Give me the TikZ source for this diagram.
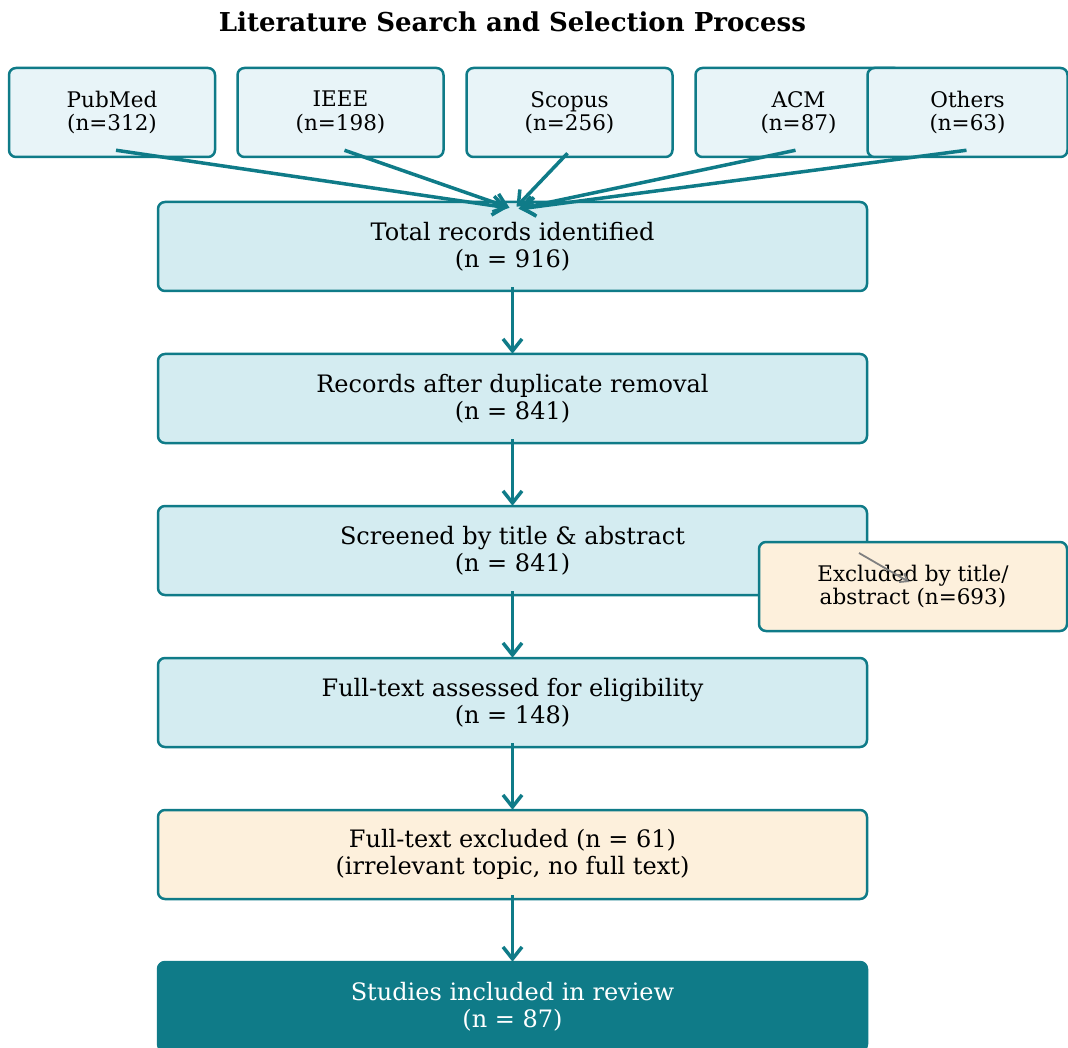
\documentclass[tikz,border=0pt]{standalone}
\usepackage{fontspec}
\setmainfont{DejaVu Serif}
\usetikzlibrary{positioning, arrows.meta}
\definecolor{flowteal}{HTML}{0F7B88}
\definecolor{srcblue}{HTML}{E8F4F8}
\definecolor{mainblue}{HTML}{D4ECF1}
\definecolor{exclcream}{HTML}{FDF0DC}
\tikzset{
  source node/.style={draw=flowteal, line width=2.5pt, rounded corners=7pt, fill=srcblue,
    minimum width=206pt, minimum height=89pt, align=center, font=\fontsize{21.5}{23.5}\selectfont},
  main node/.style={draw=flowteal, line width=2.5pt, rounded corners=7pt, fill=mainblue,
    minimum width=709pt, minimum height=89pt, align=center, font=\fontsize{24}{27}\selectfont},
  excl node/.style={main node, fill=exclcream},
  final node/.style={main node, fill=flowteal, text=white},
  flow/.style={-{Straight Barb[length=12pt,width=19pt,line width=3.5pt]}, line width=3.5pt, draw=flowteal},
}

\begin{document}
\begin{tikzpicture}[x=1pt, y=-1pt]
        \useasboundingbox (0,0) rectangle (1068,1048);
        % Title
        \node[font=\fontsize{26}{30}\selectfont\bfseries] (title) at (512.5,22) {Literature Search and Selection Process};
        % Databases
        \node[source node] (pubmed) at (112,112.5) {PubMed\\(n=312)};
        \node[source node] (ieee) at (340.5,112.5) {IEEE\\(n=198)};
        \node[source node] (scopus) at (569.5,112.5) {Scopus\\(n=256)};
        \node[source node] (acm) at (798.5,112.5) {ACM\\(n=87)};
        \node[source node, minimum width=200pt] (others) at (967.5,112.5) {Others\\(n=63)};
        % Selection stages
        \node[main node] (total) at (512.5,246.5) {Total records identified\\(n = 916)};
        \node[main node] [below = 60.5pt of total] (dedup) {Records after duplicate removal\\(n = 841)};
        \node[main node] [below = 60.5pt of dedup] (screen) {Screened by title \& abstract\\(n = 841)};
        \node[main node] [below = 60.5pt of screen] (fulltext) {Full-text assessed for eligibility\\(n = 148)};
        \node[excl node] [below = 60.5pt of fulltext] (ftexcl) {Full-text excluded (n = 61)\\(irrelevant topic, no full text)};
        \node[final node] [below = 60.5pt of ftexcl] (included) {Studies included in review\\(n = 87)};
        % Exclusion at screening
        \node[excl node, minimum width=308pt, font=\fontsize{21.5}{23.5}\selectfont] (screxcl) at (913,586.5) {Excluded by title/\\abstract (n=693)};
        \coordinate (gstart) at (859,553);
        \coordinate (gend) at (909,582);
        % Paths
        \draw[flow] ([xshift=4pt, yshift=8pt]pubmed.south) -- ([xshift=-5pt, yshift=-7pt]total.north);
        \draw[flow] ([xshift=4pt, yshift=8pt]ieee.south) -- ([xshift=-3pt, yshift=-7pt]total.north);
        \draw[flow] ([xshift=-2pt, yshift=5pt]scopus.south) -- ([xshift=4pt, yshift=-6pt]total.north);
        \draw[flow] ([xshift=-3pt, yshift=8pt]acm.south) -- ([xshift=6pt, yshift=-8pt]total.north);
        \draw[flow] ([xshift=-1pt, yshift=8pt]others.south) -- ([xshift=8pt, yshift=-8pt]total.north);
        \draw[flow] ([yshift=5pt]total.south) -- ([yshift=-1pt]dedup.north);
        \draw[flow] ([yshift=5pt]dedup.south) -- ([yshift=-1pt]screen.north);
        \draw[flow] ([yshift=5pt]screen.south) -- ([yshift=-1pt]fulltext.north);
        \draw[flow] ([yshift=5pt]fulltext.south) -- ([yshift=-1pt]ftexcl.north);
        \draw[flow] ([yshift=5pt]ftexcl.south) -- ([yshift=-1pt]included.north);
        \draw[-{Straight Barb[length=7pt,width=10pt]}, line width=1.8pt, draw=gray] (gstart) -- (gend);
\end{tikzpicture}
\end{document}
